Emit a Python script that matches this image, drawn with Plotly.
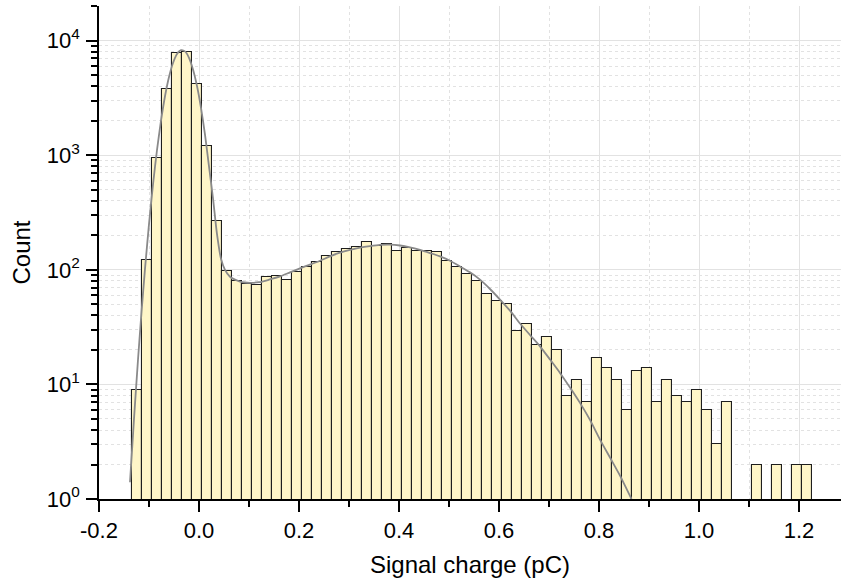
import plotly.graph_objects as go

# Histogram bins (pC): left edge of first bin and bin width
bin_start = -0.135
bin_width = 0.02

# Counts per bin (0 = empty bin)
counts = [9, 121, 940, 3780, 7750, 8000, 4210, 1200, 268, 98,
          80, 75, 73, 86, 89, 81, 95, 106, 116, 133,
          142, 153, 159, 176, 162, 167, 146, 154, 145, 145,
          142, 120, 106, 92, 80, 62, 53, 50, 29, 34,
          22, 26, 20, 8, 11, 7, 17, 14, 11, 6,
          13, 14, 7, 11, 8, 7, 9, 6, 3, 7,
          0, 0, 2, 0, 2, 0, 2, 2]

centers = [bin_start + bin_width * (i + 0.5) for i in range(len(counts))]
bar_y = [c if c > 0 else None for c in counts]

# Fit curve
fit_x = [-0.138, -0.130, -0.122, -0.115, -0.108, -0.100, -0.092, -0.084, -0.076, -0.068,
         -0.060, -0.052, -0.044, -0.036, -0.028, -0.020, -0.012, -0.004, 0.004, 0.012,
         0.020, 0.028, 0.036, 0.044, 0.052, 0.062, 0.072, 0.082, 0.092, 0.102,
         0.120, 0.140, 0.162, 0.182, 0.202, 0.222, 0.242, 0.262, 0.282, 0.302,
         0.322, 0.342, 0.362, 0.382, 0.402, 0.422, 0.442, 0.462, 0.482, 0.502,
         0.522, 0.542, 0.562, 0.582, 0.602, 0.622, 0.642, 0.662, 0.682, 0.702,
         0.722, 0.742, 0.762, 0.782, 0.802, 0.822, 0.842, 0.865]
fit_y = [1.4, 5.0, 16.4, 42.5, 102, 250, 555, 1110, 2000, 3270,
         4810, 6380, 7640, 8250, 8050, 7080, 5610, 4020, 2590, 1510,
         800, 420, 205, 125, 100, 87, 82, 79, 77.5, 77,
         78, 82, 87.5, 95, 103, 111, 120, 131, 141, 149,
         156, 161, 165, 166, 163, 157, 149, 140, 131, 120,
         107, 95, 82, 68, 55, 44, 34, 27, 21.5, 16.5,
         12.6, 9.4, 6.9, 4.9, 3.3, 2.3, 1.6, 1.0]

x_tickvals = [-0.2, 0.0, 0.2, 0.4, 0.6, 0.8, 1.0, 1.2]
x_ticktext = ["-0.2", "0.0", "0.2", "0.4", "0.6", "0.8", "1.0", "1.2"]
x_minor = [-0.1, 0.1, 0.3, 0.5, 0.7, 0.9, 1.1]

y_tickvals = [1, 10, 100, 1000, 10000]
y_ticktext = ["10<sup>0</sup>", "10<sup>1</sup>", "10<sup>2</sup>", "10<sup>3</sup>", "10<sup>4</sup>"]
y_minor = [m * d for d in [1, 10, 100, 1000] for m in range(2, 10)] + [20000]

FONT = "Liberation Sans, Arial, sans-serif"
GRID = "#e2e2e2"

fig = go.Figure()
fig.add_trace(go.Bar(
    x=centers, y=bar_y, width=bin_width,
    marker=dict(color="#FFF6C8", line=dict(color="#1e1e1e", width=1.1)),
    showlegend=False, hoverinfo="x+y",
))
fig.add_trace(go.Scatter(
    x=fit_x, y=fit_y, mode="lines",
    line=dict(color="#8a8a8a", width=1.8, shape="spline", smoothing=0.6),
    showlegend=False,
))

fig.update_layout(
    width=845, height=586,
    margin=dict(l=99, r=4, t=6, b=87),
    paper_bgcolor="white", plot_bgcolor="white",
    font=dict(family=FONT, color="black", size=22),
    bargap=0,
)
fig.update_xaxes(
    range=[-0.2, 1.284],
    tickmode="array", tickvals=x_tickvals, ticktext=x_ticktext,
    ticks="outside", ticklen=11, tickwidth=1.5, tickcolor="black",
    tickfont=dict(size=22), ticklabelstandoff=0,
    showline=True, linecolor="black", linewidth=1.5,
    showgrid=True, gridcolor=GRID, gridwidth=1,
    minor=dict(tickmode="array", tickvals=x_minor, ticks="outside", ticklen=6,
               tickwidth=1.5, tickcolor="black", showgrid=True, gridcolor=GRID,
               griddash="3px,3px", gridwidth=1),
    zeroline=False,
    title=dict(text="Signal charge (pC)", font=dict(size=24), standoff=14),
)
fig.update_yaxes(
    type="log", range=[0, 4.302],
    tickmode="array", tickvals=y_tickvals, ticktext=y_ticktext,
    ticks="outside", ticklen=11, tickwidth=1.5, tickcolor="black",
    tickfont=dict(size=22), ticklabelstandoff=2,
    showline=True, linecolor="black", linewidth=1.5,
    showgrid=True, gridcolor=GRID, gridwidth=1,
    minor=dict(tickmode="array", tickvals=y_minor, ticks="outside", ticklen=6,
               tickwidth=1.5, tickcolor="black", showgrid=True, gridcolor=GRID,
               griddash="3px,3px", gridwidth=1),
    zeroline=False,
    title=dict(text="Count", font=dict(size=24), standoff=9),
)

fig.write_html("out.html", config={"displayModeBar": False},
               post_script="document.body.style.margin='0';")
